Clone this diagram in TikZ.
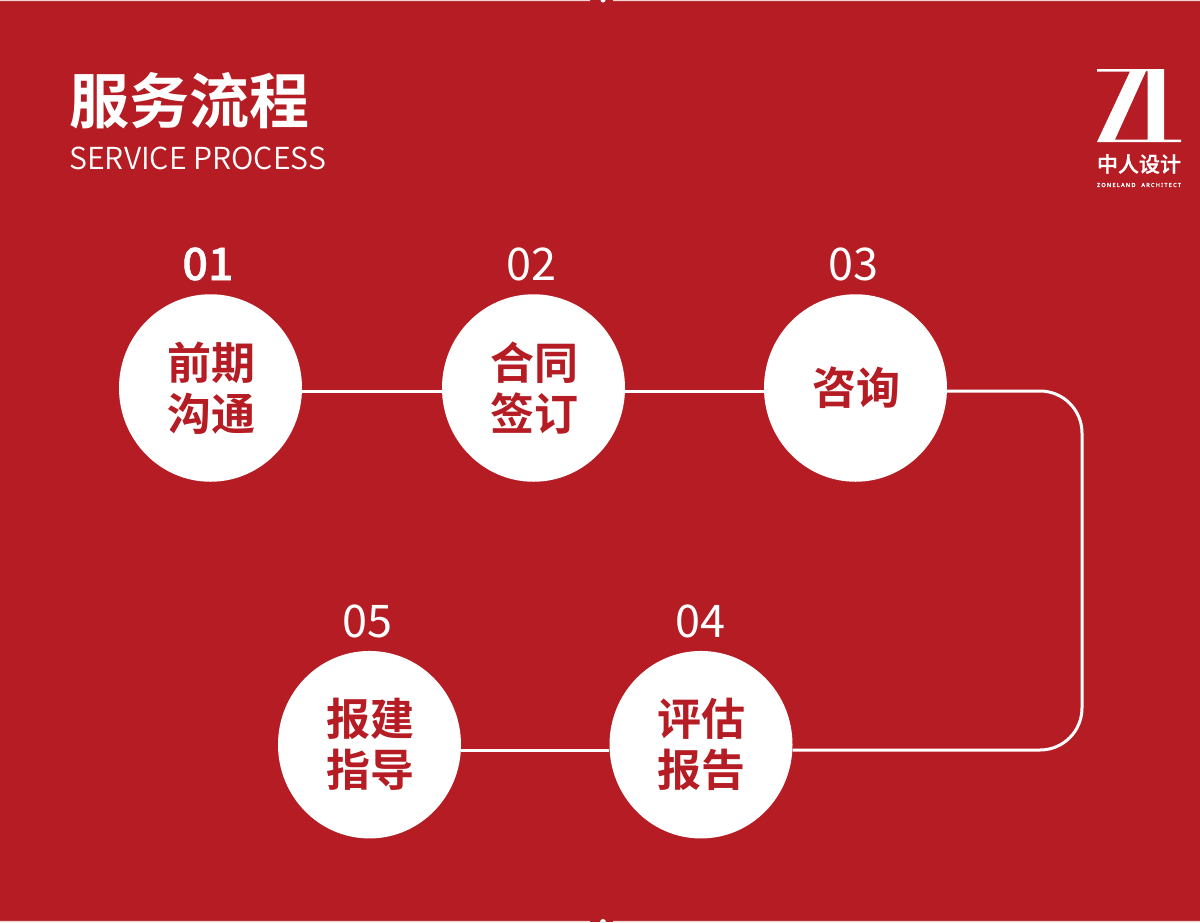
\documentclass[tikz,border=0pt]{standalone}
\usepackage{fontspec}
\usetikzlibrary{shapes.geometric}
\newfontfamily\cjk{Noto Sans CJK SC}[BoldFont={Noto Sans CJK SC Bold}]
\newfontfamily\cjkmed{Noto Sans CJK SC Medium}
\newfontfamily\cjkmedb{Noto Sans CJK SC Medium}[FakeBold=1]
\newfontfamily\cjklight{Noto Sans CJK SC DemiLight}
\newfontfamily\logofont{Noto Sans}[LetterSpace=24,FakeBold=2.5]
\setmainfont{Noto Sans}
\definecolor{brandred}{HTML}{B51C23}
\tikzset{
  stepcircle/.style={ellipse,fill=white,minimum width=183pt,minimum height=187.5pt,inner sep=0pt,text=brandred,align=center,font=\cjk\bfseries\fontsize{44}{51}\selectfont},
  steplabel/.style={text=white,inner sep=0pt,font=\cjk\fontsize{45}{45}\selectfont},
  link/.style={white,line width=3pt},
}
\begin{document}
\begin{tikzpicture}[x=1pt,y=-1pt]
\useasboundingbox (0,0) rectangle (1200,922);
\fill[brandred] (0,0) rectangle (1200,922);
\fill[white!80!brandred] (0,0) rectangle (590,1.2) (613,0) rectangle (1200,1.2);
\fill[white!80!brandred] (0,920.8) rectangle (590,922) (613,920.8) rectangle (1200,922);
\fill[white] (603,0) circle (2.5);
\fill[white] (603,922) circle (3);
\node[anchor=west,text=white,inner sep=0pt,font=\cjk\bfseries\fontsize{60}{60}\selectfont] (title) at (69,101) {服务流程};
\node[anchor=west,text=white,inner sep=0pt,font=\cjklight\fontsize{30.3}{31}\selectfont] (sub) at (69,158) {SERVICE PROCESS};
\node[stepcircle] (s1) at (210.5,388) {\hspace{1pt}前期\\\hspace{1pt}沟通};
\node[stepcircle] (s2) at (533.5,388) {\hspace{1pt}合同\\\hspace{1pt}签订};
\node[stepcircle] (s3) at (855.5,388) {\hspace{1pt}\raisebox{3.5pt}{咨询}};
\node[stepcircle] (s4) at (701,744.7) {评估\\报告};
\node[stepcircle] (s5) at (369.5,744.7) {\hspace{1.5pt}报建\\\hspace{1.5pt}指导};
\node[steplabel,font=\cjkmedb\fontsize{45}{45}\selectfont] (n1) at (208,264) {01};
\node[steplabel] (n2) at (531.5,264) {02};
\node[steplabel] (n3) at (853,264) {03};
\node[steplabel] (n4) at (700,621) {04};
\node[steplabel] (n5) at (367.5,621) {05};
\draw[link] (s1.east |- 0,391) -- (s2.west |- 0,391);
\draw[link] (s2.east |- 0,391) -- (s3.west |- 0,391);
\draw[link,rounded corners=42pt] (s3.east |- 0,391) -- (1082,391) -- (1082,750) -- (s4.east |- 0,750);
\draw[link] (s4.west |- 0,750) -- (s5.east |- 0,750);
% logo
\fill[white,even odd rule] (1097,69) -- (1164,69) -- (1164,139.5) -- (1181,139.5) -- (1181,142) -- (1097,142) -- (1130,71.5) -- (1097,71.5) -- cycle
  (1146,71) -- (1115,139.5) -- (1147.5,139.5) -- (1147.5,71) -- cycle;
\node[text=white,inner sep=0pt,font=\cjkmedb\fontsize{21}{21}\selectfont] (logocn) at (1139,164) {中人设计};
\node[text=white,inner sep=0pt,font=\logofont\fontsize{5.5}{5.5}\selectfont] (logoen) at (1139,185) {ZONELAND\hspace{6pt}ARCHITECT};
\end{tikzpicture}
\end{document}
